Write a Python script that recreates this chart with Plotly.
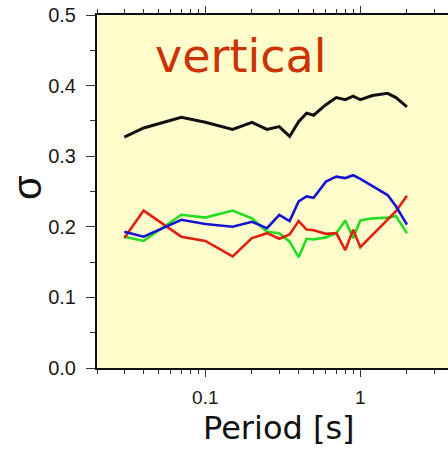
import plotly.graph_objects as go

# Spectral period [s]
periods = [0.03, 0.04, 0.07, 0.1, 0.15, 0.2, 0.25, 0.3, 0.35, 0.4, 0.45,
           0.5, 0.6, 0.7, 0.8, 0.9, 1.0, 1.2, 1.5, 1.7, 2.0]

# Standard deviations (sigma) per period
sigma_total = [0.327, 0.340, 0.355, 0.348, 0.338, 0.348, 0.338, 0.342, 0.328, 0.349, 0.361,
               0.358, 0.373, 0.383, 0.380, 0.385, 0.380, 0.386, 0.389, 0.383, 0.370]
sigma_blue = [0.193, 0.186, 0.210, 0.204, 0.200, 0.207, 0.198, 0.217, 0.208, 0.236, 0.243,
              0.241, 0.264, 0.271, 0.269, 0.273, 0.268, 0.258, 0.245, 0.229, 0.203]
sigma_red = [0.184, 0.223, 0.186, 0.180, 0.158, 0.184, 0.191, 0.183, 0.189, 0.208, 0.196,
             0.195, 0.190, 0.191, 0.167, 0.196, 0.171, 0.189, 0.210, 0.222, 0.244]
sigma_green = [0.186, 0.180, 0.217, 0.213, 0.223, 0.212, 0.193, 0.191, 0.179, 0.157, 0.183,
               0.182, 0.185, 0.191, 0.209, 0.184, 0.209, 0.212, 0.213, 0.215, 0.191]

x_major = [0.1, 1]
x_labels = ["0.1", "1"]
x_minor = [0.02, 0.03, 0.04, 0.05, 0.06, 0.07, 0.08, 0.09,
           0.2, 0.3, 0.4, 0.5, 0.6, 0.7, 0.8, 0.9, 2, 3]
y_major = [0.0, 0.1, 0.2, 0.3, 0.4, 0.5]
y_labels = ["0.0", "0.1", "0.2", "0.3", "0.4", "0.5"]
y_minor = [0.05, 0.15, 0.25, 0.35, 0.45]

series = [
    (sigma_green, "#22dd22", 2.6),
    (sigma_red, "#e02010", 2.6),
    (sigma_blue, "#1515d0", 2.6),
    (sigma_total, "#111111", 3),
]

fig = go.Figure()
for values, color, width in series:
    fig.add_trace(go.Scatter(x=periods, y=values, mode="lines",
                             line=dict(color=color, width=width),
                             showlegend=False, hoverinfo="skip"))

fig.update_layout(
    width=448, height=452,
    margin=dict(l=97, r=0, t=15, b=84),
    paper_bgcolor="white",
    plot_bgcolor="#fffdcc",
    font=dict(family="Liberation Sans, Arial, sans-serif", color="#222222"),
    xaxis=dict(
        type="log", range=[-1.699, 0.566],
        tickmode="array", tickvals=x_major, ticktext=x_labels,
        ticks="outside", ticklen=7, tickwidth=1.2, tickcolor="#333333",
        minor=dict(tickmode="array", tickvals=x_minor, ticks="outside",
                   ticklen=4, tickwidth=1, tickcolor="#333333"),
        showline=True, linecolor="#111111", linewidth=2, mirror="allticks",
        showgrid=False, zeroline=False,
        tickfont=dict(size=19, color="#1a1a1a"), ticklabelstandoff=4,
    ),
    yaxis=dict(
        range=[0, 0.5],
        tickmode="array", tickvals=y_major, ticktext=y_labels,
        ticks="outside", ticklen=9, tickwidth=1.2, tickcolor="#333333",
        minor=dict(tickmode="array", tickvals=y_minor, ticks="outside",
                   ticklen=5, tickwidth=1, tickcolor="#333333"),
        showline=True, linecolor="#111111", linewidth=2, mirror=False,
        showgrid=False, zeroline=False,
        tickfont=dict(size=20, color="#1a1a1a"), ticklabelstandoff=6,
    ),
    annotations=[
        dict(text="vertical", xref="paper", yref="paper", x=0.16, y=0.884,
             xanchor="left", yanchor="middle", showarrow=False,
             font=dict(family="DejaVu Sans", size=46, color="#cc3300")),
        dict(text="σ", xref="paper", yref="paper", x=-0.199, y=0.51,
             xanchor="center", yanchor="middle", showarrow=False, textangle=-90,
             font=dict(family="Liberation Sans", size=40, color="#111111")),
        dict(text="Period [s]", xref="paper", yref="paper", x=0.5185, y=-0.17,
             xanchor="center", yanchor="middle", showarrow=False,
             font=dict(family="DejaVu Sans", size=32, color="#111111")),
    ],
)

fig.write_html("out.html")
